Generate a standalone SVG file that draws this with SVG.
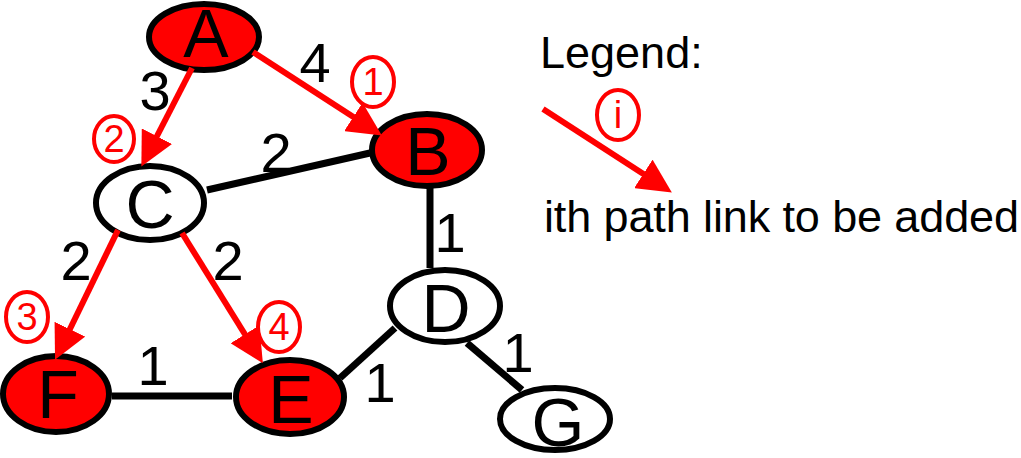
<svg xmlns="http://www.w3.org/2000/svg" width="1021" height="458" viewBox="0 0 1021 458">
<style>
.node{stroke:#000;stroke-width:6}
.red{fill:#ff0000}
.white{fill:#fff}
.nl{font-family:"Liberation Sans",Arial,sans-serif;font-size:68px;fill:#000;text-anchor:middle}
.el{font-family:"Liberation Sans",Arial,sans-serif;font-size:56px;fill:#000;text-anchor:middle}
.blk{stroke:#000;stroke-width:7;fill:none}
.path{stroke:#ff0000;stroke-width:6;fill:none;marker-end:url(#ah)}
.circ{fill:none;stroke:#ff0000;stroke-width:4}
.cn{font-family:"Liberation Sans",Arial,sans-serif;font-size:38px;fill:#ff0000;text-anchor:middle}
.lg{font-family:"Liberation Sans",Arial,sans-serif;font-size:45px;fill:#000}
</style>
<defs>
<marker id="ah" markerUnits="userSpaceOnUse" viewBox="0 0 34 34" markerWidth="34" markerHeight="34" refX="2" refY="17" orient="auto">
<path d="M0,0 L34,17 L0,34 z" fill="#ff0000"/>
</marker>
</defs>
<rect width="1021" height="458" fill="#fff"/>
<g id="node-A"><ellipse class="node red" cx="204" cy="37" rx="55" ry="33"/><text class="nl" x="206" y="57">A</text></g>
<g id="node-B"><ellipse class="node red" cx="427" cy="150" rx="55" ry="36"/><text class="nl" x="428" y="175">B</text></g>
<g id="node-C"><ellipse class="node white" cx="150" cy="203" rx="54" ry="37"/><text class="nl" x="150" y="228">C</text></g>
<g id="node-D"><ellipse class="node white" cx="445" cy="306" rx="55" ry="36"/><text class="nl" x="446" y="332">D</text></g>
<g id="node-E"><ellipse class="node red" cx="290" cy="397" rx="54" ry="37"/><text class="nl" x="291" y="423">E</text></g>
<g id="node-F"><ellipse class="node red" cx="56" cy="394" rx="53" ry="38"/><text class="nl" x="58" y="418">F</text></g>
<g id="node-G"><ellipse class="node white" cx="555" cy="419" rx="55" ry="31"/><text class="nl" x="558" y="446">G</text></g>
<g id="connectors">
<line class="blk" x1="207" y1="190" x2="370" y2="153"/>
<line class="blk" x1="430" y1="188" x2="430" y2="268"/>
<line class="blk" x1="395" y1="328" x2="340" y2="378"/>
<line class="blk" x1="467" y1="343" x2="522" y2="390"/>
<line class="blk" x1="112" y1="396" x2="232" y2="396"/>
<line class="path" x1="253" y1="52" x2="355" y2="118"/>
<line class="path" x1="192" y1="68" x2="156" y2="138"/>
<line class="path" x1="118" y1="230" x2="69" y2="331"/>
<line class="path" x1="182" y1="233" x2="246" y2="336"/>
<text class="el" x="155" y="110">3</text>
<text class="el" x="315" y="82">4</text>
<text class="el" x="276" y="172">2</text>
<text class="el" x="450" y="252">1</text>
<text class="el" x="76" y="280">2</text>
<text class="el" x="228" y="280">2</text>
<text class="el" x="153" y="385">1</text>
<text class="el" x="380" y="402">1</text>
<text class="el" x="518" y="372">1</text>
<ellipse class="circ" cx="373" cy="82" rx="21" ry="25"/><text class="cn" x="373" y="95">1</text>
<ellipse class="circ" cx="114" cy="139" rx="20" ry="23"/><text class="cn" x="114" y="152">2</text>
<ellipse class="circ" cx="27" cy="317" rx="21" ry="25"/><text class="cn" x="27" y="330">3</text>
<ellipse class="circ" cx="279" cy="327" rx="21" ry="25"/><text class="cn" x="279" y="340">4</text>
</g>
<g id="legend">
<text class="lg" x="540" y="68">Legend:</text>
<line class="path" x1="543" y1="109" x2="645" y2="175"/>
<ellipse class="circ" cx="618" cy="115" rx="21" ry="25"/><text class="cn" x="618" y="128">i</text>
<text class="lg" x="544" y="232" textLength="475" lengthAdjust="spacing">ith path link to be added</text>
</g>
</svg>
